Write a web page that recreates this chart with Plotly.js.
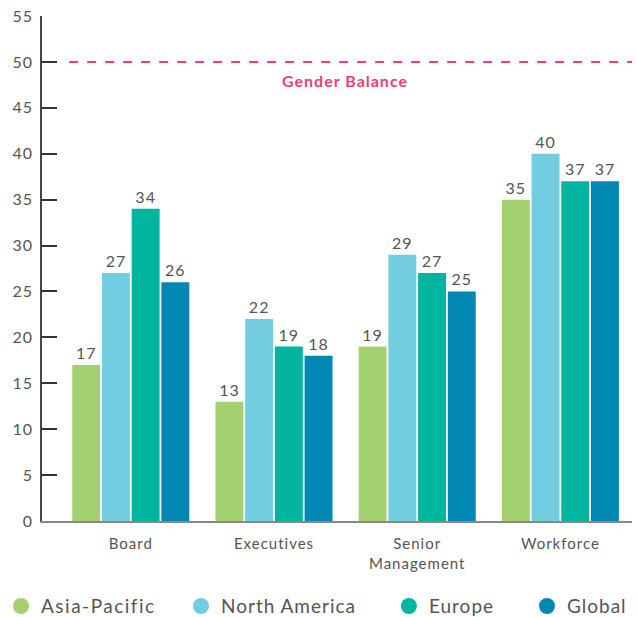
<!DOCTYPE html>
<html><head><meta charset="utf-8">
<script src="https://cdn.plot.ly/plotly-3.0.1.min.js"></script>
<style>html,body{margin:0;padding:0;background:#fff}#chart{width:638px;height:617px}
svg text{letter-spacing:1px}
svg text.legendtext{letter-spacing:1.5px}</style>
</head><body><div id="chart"></div>
<script>
const categories = ["Board", "Executives", "Senior<br>Management", "Workforce"];
const seriesNames = ["Asia-Pacific", "North America", "Europe", "Global"];
const asiaPacific = [17, 13, 19, 35];
const northAmerica = [27, 22, 29, 40];
const europe = [34, 19, 27, 37];
const global = [26, 18, 25, 37];
const colors = ["#a3d170", "#72cde0", "#00b5a0", "#0088b3"];
const yTicks = [0, 5, 10, 15, 20, 25, 30, 35, 40, 45, 50, 55];
const balanceValue = 50;
const balanceLabel = "Gender Balance";

const values = [asiaPacific, northAmerica, europe, global];
const font = "Lato, 'Noto Sans', sans-serif";
const legendIds = ["legend", "legend2", "legend3", "legend4"];
const legendX = [-0.0695, 0.2356, 0.588, 0.822];
const traces = [];
values.forEach((v, i) => {
  traces.push({
    type: "bar", x: categories, y: v, name: seriesNames[i],
    marker: {color: colors[i]}, showlegend: false,
    text: v.map(String), textposition: "outside", cliponaxis: false,
    textfont: {family: font, size: 16, color: "#555"}
  });
});
values.forEach((v, i) => {
  traces.push({
    type: "scatter", mode: "markers", x: [null], y: [null], name: seriesNames[i],
    marker: {color: colors[i], size: 20, symbol: "circle"}, showlegend: true,
    legend: legendIds[i]
  });
});

const layout = {
  width: 638, height: 617,
  margin: {l: 42, r: 6, t: 16, b: 96, autoexpand: false},
  paper_bgcolor: "#fff", plot_bgcolor: "#fff",
  font: {family: font, color: "#555"},
  barmode: "group", bargap: 0.17, bargroupgap: 0.06,
  xaxis: {
    type: "category", range: [-0.62, 3.5], showline: true, linecolor: "#888", linewidth: 2,
    ticks: "", showgrid: false, zeroline: false, ticklabelstandoff: 8,
    tickfont: {family: font, size: 15, color: "#555"}
  },
  yaxis: {
    range: [0, 55], tickvals: yTicks, showline: true, linecolor: "#444", linewidth: 1.5,
    ticks: "inside", ticklen: 15, tickcolor: "#333", tickwidth: 1.5,
    showgrid: false, zeroline: false, ticklabelstandoff: 4,
    tickfont: {family: font, size: 16, color: "#555"}
  },
  shapes: [{
    type: "line", xref: "paper", x0: 0.046, x1: 1, yref: "y", y0: balanceValue, y1: balanceValue,
    line: {color: "#ec3f7a", width: 2, dash: "dash"}
  }],
  annotations: [{
    xref: "paper", x: 0.513, yref: "y", y: balanceValue, yshift: -19, showarrow: false,
    text: "<b>" + balanceLabel + "</b>", font: {family: font, size: 16, color: "#ec3f7a"}
  }]
};
legendIds.forEach((id, i) => {
  layout[id] = {
    orientation: "h", x: legendX[i], xanchor: "left", y: -0.131, yanchor: "top",
    font: {family: font, size: 19, color: "#555"}, itemsizing: "trace",
    bgcolor: "rgba(0,0,0,0)"
  };
});
Plotly.newPlot("chart", traces, layout, {displayModeBar: false});
</script></body></html>
